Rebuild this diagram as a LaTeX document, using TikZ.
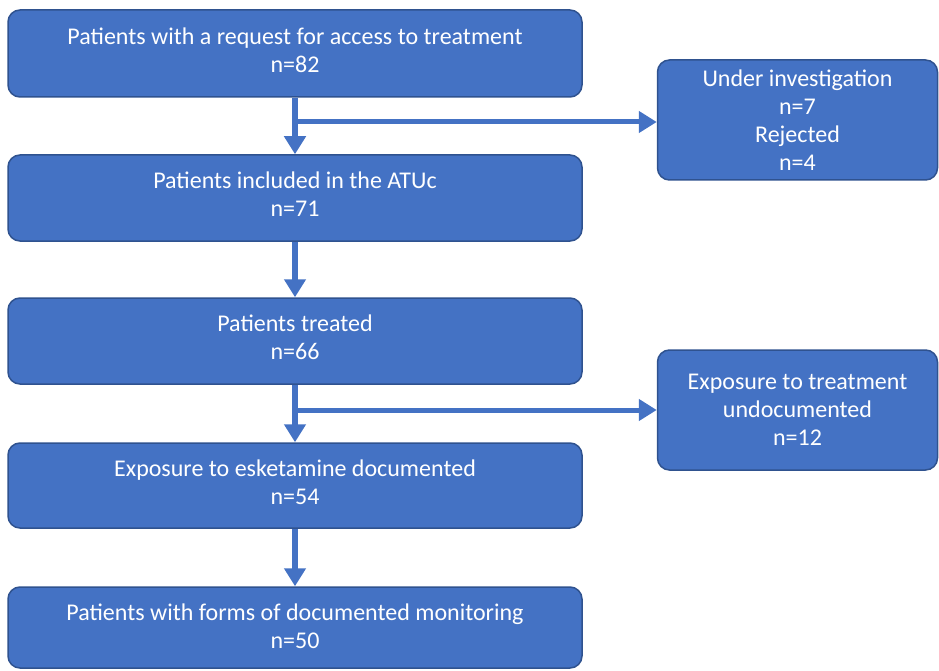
\documentclass[tikz,border=0pt]{standalone}
\usepackage{fontspec}
\setmainfont{Carlito}
\usetikzlibrary{arrows.meta}
\definecolor{boxblue}{HTML}{4472C4}
\definecolor{edgeblue}{HTML}{2F528F}
\tikzset{
  flowbox/.style={rectangle, rounded corners=12pt, fill=boxblue, draw=edgeblue,
    line width=1.5pt, text=white, align=center, inner sep=0pt,
    font=\fontsize{24}{28}\selectfont},
  mainbox/.style={flowbox, minimum width=574pt, text depth=7pt},
  sidebox/.style={flowbox, minimum width=280pt, minimum height=120pt},
  flowarrow/.style={draw=boxblue, line width=6pt,
    -{Triangle[width=21pt,length=18pt]}, fill=boxblue},
  sidearrow/.style={draw=boxblue, line width=5pt,
    -{Triangle[width=21pt,length=18pt]}, fill=boxblue}
}
\begin{document}
\begin{tikzpicture}[x=1pt,y=-1pt]
\useasboundingbox (0,0) rectangle (939,671);
\fill[white] (0,0) rectangle (939,671);

\node[mainbox, minimum height=87pt] (b1) at (295,53.5)
  {Patients with a request for access to treatment\\n=82};
\node[mainbox, minimum height=86pt] (b2) at (295,198)
  {Patients included in the ATUc\\n=71};
\node[mainbox, minimum height=86pt] (b3) at (295,341)
  {Patients treated\\n=66};
\node[mainbox, minimum height=85pt] (b4) at (295,485.5)
  {Exposure to esketamine documented\\n=54};
\node[mainbox, minimum height=81pt, text depth=2pt] (b5) at (295,627.5)
  {Patients with forms of documented monitoring\\n=50};

\node[sidebox] (r1) at (797.5,120)
  {Under investigation\\n=7\\Rejected\\n=4};
\node[sidebox] (r2) at (797.5,410)
  {Exposure to treatment\\undocumented\\n=12};

\draw[flowarrow] (b1.south) -- (b2.north);
\draw[flowarrow] (b2.south) -- (b3.north);
\draw[flowarrow] (b3.south) -- (b4.north);
\draw[flowarrow] (b4.south) -- (b5.north);

\draw[sidearrow] (b1.south |- 0,122) -- (r1.west |- 0,122);
\draw[sidearrow] (b3.south |- 0,410) -- (r2.west);
\end{tikzpicture}
\end{document}
